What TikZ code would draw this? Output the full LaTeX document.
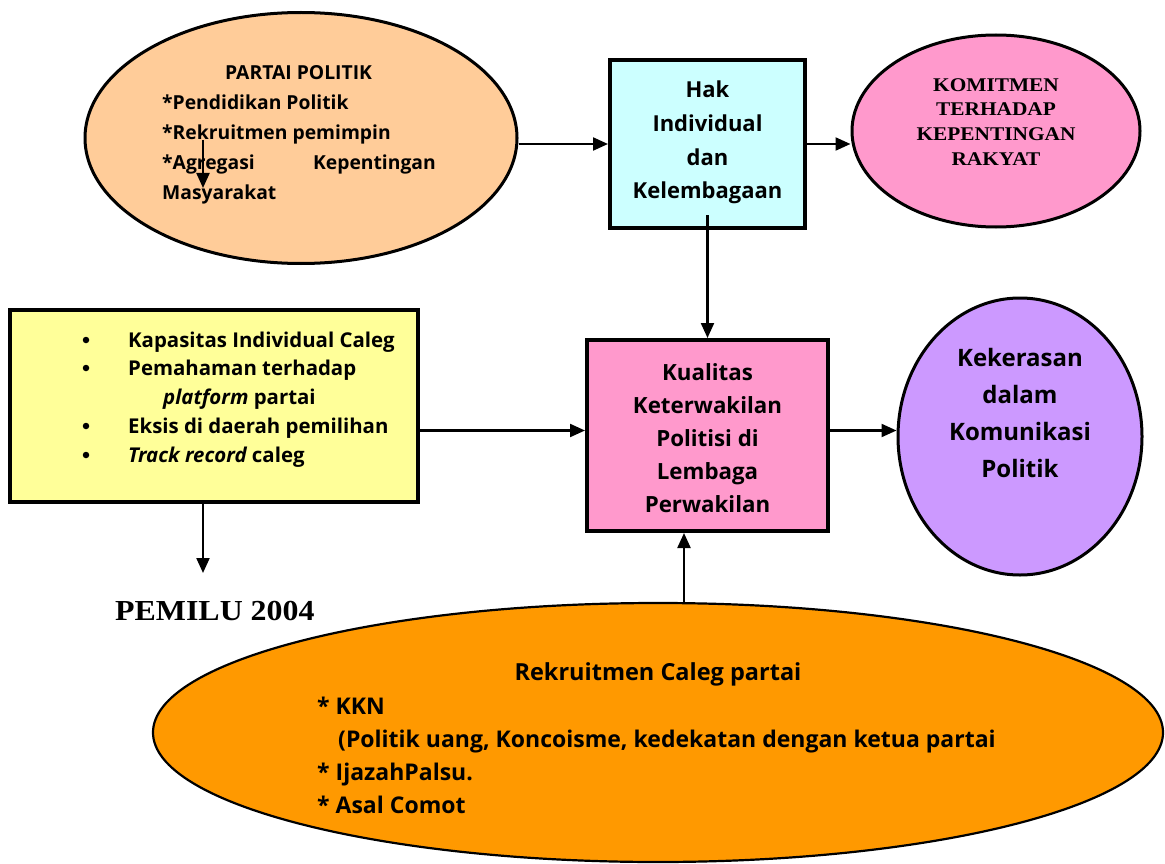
\documentclass[tikz,border=0pt]{standalone}
\usepackage{fontspec}
\setmainfont{Liberation Serif}
\newfontfamily\csf{Open Sans}
\newfontfamily\tmf[FakeStretch=1.1]{Liberation Serif}
\usetikzlibrary{arrows.meta,shapes.geometric}
\definecolor{cpeach}{HTML}{FFCC99}
\definecolor{ccyan}{HTML}{CCFFFF}
\definecolor{cpink}{HTML}{FF99CC}
\definecolor{cyel}{HTML}{FFFF99}
\definecolor{cpurp}{HTML}{CC99FF}
\definecolor{corng}{HTML}{FF9900}
\tikzset{
  shp/.style={draw, line width=3pt, inner sep=0pt},
  el/.style={shp, ellipse},
  bx/.style={shp, rectangle, line width=4pt},
  conn/.style={line width=2.2pt, -{Triangle[length=15pt,width=13pt]}},
  cs/.style={font={\csf\bfseries\fontsize{#1}{#1}\selectfont}, inner sep=0pt},
  tm/.style={font={\tmf\bfseries\fontsize{#1}{#1}\selectfont}, inner sep=0pt},
  bul/.style={circle, fill=black, inner sep=0pt, minimum size=6.5pt},
}
\begin{document}
\begin{tikzpicture}[x=1pt,y=-1pt]
\useasboundingbox (0,0) rectangle (1165,864);
% shapes
\node[el, fill=cpeach, minimum width=432pt, minimum height=251pt] (pp) at (301,138) {};
\node[bx, fill=ccyan, minimum width=195pt, minimum height=168pt] (hak) at (707.5,144) {};
\node[el, fill=cpink, minimum width=288pt, minimum height=192pt] (kom) at (996,131) {};
\node[bx, fill=cyel, minimum width=408pt, minimum height=192pt] (yel) at (214,406) {};
\node[bx, fill=cpink, minimum width=241pt, minimum height=191pt] (kual) at (707.5,435.5) {};
\node[el, fill=cpurp, minimum width=244pt, minimum height=277pt] (kek) at (1020,436.5) {};
\node[el, fill=corng, line width=2.2pt, minimum width=1010pt, minimum height=259pt] (rek) at (658,732.5) {};
% partai politik text
\node[cs=19.3, anchor=base] (pp0) at (298.5,80) {PARTAI POLITIK};
\node[cs=19.3, anchor=base west] (pp1) at (162,110) {*Pendidikan Politik};
\node[cs=19.3, anchor=base west] (pp2) at (162,140) {*Rekruitmen pemimpin};
\node[cs=19.3, anchor=base west] (pp3a) at (162,169) {*Agregasi};
\node[cs=19.3, anchor=base east] (pp3b) at (436,169) {Kepentingan};
\node[cs=19.3, anchor=base west] (pp4) at (162,199) {Masyarakat};
% hak text
\node[cs=22, anchor=base] (h1) at (707.5,98) {Hak};
\node[cs=22, anchor=base] (h2) at (707.5,131.5) {Individual};
\node[cs=22, anchor=base] (h3) at (707.5,165) {dan};
\node[cs=22, anchor=base] (h4) at (707.5,198) {Kelembagaan};
% komitmen text
\node[tm=19.4, anchor=base] (k1) at (996,92) {KOMITMEN};
\node[tm=19.4, anchor=base] (k2) at (996,116) {TERHADAP};
\node[tm=19.4, anchor=base] (k3) at (996,141) {KEPENTINGAN};
\node[tm=19.4, anchor=base] (k4) at (996,165) {RAKYAT};
% yellow box text
\node[bul] (b1) at (86,340) {};
\node[bul] (b2) at (86,368) {};
\node[bul] (b3) at (86,426) {};
\node[bul] (b4) at (86,455) {};
\node[cs=20.4, anchor=base west] (y1) at (128,347) {Kapasitas Individual Caleg};
\node[cs=20.4, anchor=base west] (y2) at (128,375) {Pemahaman terhadap};
\node[cs=20.4, anchor=base west] (y3) at (163,404) {\itshape platform\upshape{} partai};
\node[cs=20.4, anchor=base west] (y4) at (128,433) {Eksis di daerah pemilihan};
\node[cs=20.4, anchor=base west] (y5) at (128,462) {\itshape Track record\upshape{} caleg};
% kualitas text
\node[cs=22.3, anchor=base] (q1) at (707.5,380) {Kualitas};
\node[cs=22.3, anchor=base] (q2) at (707.5,413) {Keterwakilan};
\node[cs=22.3, anchor=base] (q3) at (707.5,446) {Politisi di};
\node[cs=22.3, anchor=base] (q4) at (707.5,479) {Lembaga};
\node[cs=22.3, anchor=base] (q5) at (707.5,512) {Perwakilan};
% kekerasan text
\node[cs=24, anchor=base] (e1) at (1020,366) {Kekerasan};
\node[cs=24, anchor=base] (e2) at (1020,403) {dalam};
\node[cs=24, anchor=base] (e3) at (1020,440) {Komunikasi};
\node[cs=24, anchor=base] (e4) at (1020,477) {Politik};
% pemilu
\node[tm=29, anchor=base west] (pem) at (115,620) {PEMILU 2004};
% rekruitmen text
\node[cs=23.5, anchor=base] (r0) at (658,680) {Rekruitmen Caleg partai};
\node[cs=23, anchor=base west] (r1) at (317,714) {* KKN};
\node[cs=23, anchor=base west] (r2) at (338,747) {(Politik uang, Koncoisme, kedekatan dengan ketua partai};
\node[cs=23, anchor=base west] (r3) at (317,780) {* IjazahPalsu.};
\node[cs=23, anchor=base west] (r4) at (317,813) {* Asal Comot};
% connectors
\coordinate (sa0) at (203,140);
\coordinate (sa1) at (203,188);
\draw[conn] (sa0) -- (sa1);
\draw[conn] (pp.east |- hak.west) -- (hak.west);
\draw[conn] (hak.east) -- (kom.west |- hak.east);
\draw[conn] ([yshift=15pt]hak.south) -- (kual.north);
\coordinate (kw) at ([yshift=5pt]kual.west);
\draw[conn] (yel.east |- kw) -- (kw);
\draw[conn] (kual.east |- kw) -- (kek.west |- kw);
\coordinate (pm) at (203,573);
\draw[conn] (yel.south -| pm) -- (pm);
\coordinate (rk) at (684,603);
\draw[conn] (rk) -- (rk |- kual.south);
\end{tikzpicture}
\end{document}
